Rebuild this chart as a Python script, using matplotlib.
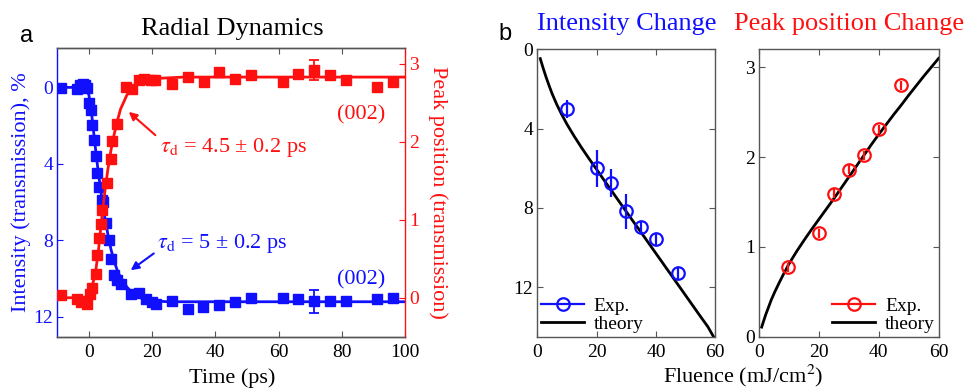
import matplotlib
matplotlib.use("Agg")
import matplotlib.pyplot as plt
from matplotlib.lines import Line2D

plt.rcParams['font.family'] = ['Liberation Serif', 'DejaVu Serif']
plt.rcParams['mathtext.fontset'] = 'stix'

BLUE = '#1010ff'
RED = '#ff1010'
SPINE = '#555555'

# ---- Panel a data: radial dynamics ----
t_int = [-8.7, -3.7, -2.8, -2.0, -1.2, -0.5, 0.0, 0.5, 1.1, 1.6, 2.1, 2.6, 3.3, 4.0, 4.6,
         5.3, 6.3, 6.9, 7.9, 9.0, 10.2, 13.2, 15.8, 18.0, 20.0, 21.3, 26.2, 31.2, 36.2,
         41.2, 46.2, 51.2, 61.2, 66.2, 71.0, 76.2, 81.2, 91.2, 96.2]
intensity = [0.05, 0.1, -0.15, -0.2, -0.1, 0.05, 0.8, 1.2, 1.95, 2.75, 3.6, 4.5, 5.2, 5.9, 6.0,
             7.1, 8.0, 9.0, 9.8, 10.1, 10.3, 10.8, 10.75, 11.1, 11.25, 11.35, 11.2, 11.6, 11.5,
             11.4, 11.25, 11.0, 11.0, 11.1, 11.2, 11.2, 11.2, 11.1, 11.0]
t_peak = [-8.7, -3.7, -2.5, -1.5, -0.7, 0.3, 1.07, 2.1, 2.6, 3.2, 3.7, 4.2, 5.6, 6.85, 7.4,
          9.0, 11.6, 13.7, 15.8, 17.5, 19.5, 21.0, 26.3, 31.3, 36.3, 41.2, 46.3, 51.2,
          61.2, 66.2, 71.0, 76.2, 81.2, 91.2, 96.2]
peak = [0.03, -0.02, -0.05, -0.04, -0.08, 0.05, 0.12, 0.31, 0.55, 0.76, 0.95, 1.12, 1.47,
        1.78, 2.01, 2.23, 2.70, 2.68, 2.79, 2.80, 2.79, 2.79, 2.74, 2.83, 2.77, 2.89, 2.81,
        2.86, 2.77, 2.87, 2.92, 2.86, 2.79, 2.70, 2.77]
err_t = [71.0]
err_int = [11.2]
err_int_e = [0.6]
err_peak = [2.92]
err_peak_e = [0.13]

fit_t_int = [-10, -1, 0, 1, 2, 3, 4, 5, 6, 7, 8, 9, 10, 12, 14, 16, 18, 20, 25, 100]
fit_int = [0.0, 0.0, 0.4, 1.6, 3.1, 4.5, 5.7, 6.8, 7.7, 8.5, 9.1, 9.6, 9.95, 10.45, 10.8,
           11.0, 11.1, 11.17, 11.22, 11.22]
fit_t_peak = [-10, -1, 0, 1, 2, 3, 4, 5, 6, 7, 8, 9, 10, 12, 14, 16, 18, 20, 30, 100]
fit_peak = [0.0, 0.0, 0.05, 0.15, 0.3, 0.6, 1.0, 1.35, 1.65, 1.9, 2.1, 2.27, 2.42, 2.6,
            2.71, 2.77, 2.8, 2.81, 2.83, 2.83]

# ---- Panel b data: fluence dependence ----
flu_int = [10, 20, 25, 30, 35, 40, 47.5]
int_change = [3.03, 6.0, 6.75, 8.18, 8.96, 9.56, 11.3]
int_err = [0.45, 0.94, 0.72, 0.87, 0.3, 0.3, 0.3]
theory_flu_int = [1.0, 2.0, 3.0, 4.0, 5.0, 6.5, 8.0, 10, 12.5, 15, 17.5, 20, 22.5, 25,
                  27.5, 30, 32.5, 35, 37.5, 40, 42.5, 45, 47.5, 50, 52.5, 55, 57.5, 59.4]
theory_int = [0.47, 0.96, 1.42, 1.84, 2.24, 2.76, 3.22, 3.78, 4.4, 4.98, 5.53, 6.06, 6.6,
              7.13, 7.66, 8.19, 8.72, 9.24, 9.77, 10.3, 10.83, 11.36, 11.89, 12.42, 12.95,
              13.48, 14.0, 14.5]

flu_peak = [9.7, 20.1, 25, 30, 34.9, 40, 47.4]
peak_change = [0.774, 1.15, 1.59, 1.86, 2.02, 2.31, 2.80]
peak_err = [0.05, 0.05, 0.05, 0.05, 0.05, 0.05, 0.05]
theory_flu_peak = [0.8, 1.5, 2.2, 3.0, 4.0, 5.2, 6.5, 8.0, 10, 12.5, 15, 17.5, 20, 22.5,
                   25, 27.5, 30, 32.5, 35, 37.5, 40, 42.5, 45, 47.5, 50, 52.5, 55, 57.5, 60]
theory_peak = [0.107, 0.18, 0.25, 0.32, 0.41, 0.5, 0.59, 0.69, 0.815, 0.95, 1.075, 1.195,
               1.31, 1.425, 1.54, 1.66, 1.78, 1.9, 2.02, 2.14, 2.255, 2.365, 2.475, 2.58,
               2.69, 2.795, 2.9, 3.0, 3.1]

fig = plt.figure(figsize=(9.66, 3.89), dpi=100)

# ================= Panel a =================
ax = fig.add_axes([0.0593, 0.1344, 0.3603, 0.7416])
ax2 = ax.twinx()

ax.plot(fit_t_int, fit_int, color=BLUE, lw=2.0, zorder=2)
ax.plot(t_int, intensity, 's', color=BLUE, ms=7.2, zorder=3)
ax.errorbar(err_t, err_int, yerr=err_int_e, fmt='none', ecolor=BLUE, elinewidth=1.3,
            capsize=3.5, capthick=1.3, zorder=3)

ax2.plot(fit_t_peak, fit_peak, color=RED, lw=2.0, zorder=2)
ax2.plot(t_peak, peak, 's', color=RED, ms=7.2, zorder=3)
ax2.errorbar(err_t, err_peak, yerr=err_peak_e, fmt='none', ecolor=RED, elinewidth=1.3,
             capsize=3.5, capthick=1.3, zorder=3)

ax.set_xlim(-10, 100)
ax.set_ylim(13.05, -2.05)
ax2.set_ylim(-0.5, 3.2)
ax.set_xticks([0, 20, 40, 60, 80, 100])
ax.set_yticks([0, 4, 8, 12])
ax2.set_yticks([0, 1, 2, 3])

ax.tick_params(axis='x', direction='in', top=True, length=4, width=0.8, color=SPINE,
               labelsize=14, pad=5)
ax.tick_params(axis='y', direction='in', length=4, width=0.8, color=BLUE,
               labelcolor=BLUE, labelsize=14, pad=3)
ax2.tick_params(axis='y', direction='in', length=4, width=0.8, color=RED,
                labelcolor=RED, labelsize=14, pad=3)

for s in ['top', 'bottom']:
    ax.spines[s].set_color(SPINE)
    ax2.spines[s].set_color(SPINE)
ax.spines['left'].set_color(BLUE)
ax.spines['right'].set_visible(False)
ax2.spines['left'].set_visible(False)
ax2.spines['right'].set_color(RED)
for a in (ax, ax2):
    for s in a.spines.values():
        s.set_linewidth(1.0)

ax.annotate('', xy=(12.6, 1.28), xytext=(21.0, 2.5),
            arrowprops=dict(arrowstyle='-|>', color=RED, lw=1.5, mutation_scale=12,
                            shrinkA=0, shrinkB=0))
ax.annotate('', xy=(13.2, 9.57), xytext=(20.5, 8.69),
            arrowprops=dict(arrowstyle='-|>', color=BLUE, lw=1.5, mutation_scale=12,
                            shrinkA=0, shrinkB=0))
ax.text(22.6, 3.37, r'$\tau_{\mathrm{d}}$ = 4.5 ± 0.2 ps', color=RED, fontsize=16,
        ha='left', va='baseline')
ax.text(21.6, 8.41, r'$\tau_{\mathrm{d}}$ = 5 ± 0.2 ps', color=BLUE, fontsize=16,
        ha='left', va='baseline')
ax.text(93.6, 1.7, '(002)', color=RED, fontsize=16, ha='right', va='baseline')
ax.text(93.6, 10.3, '(002)', color=BLUE, fontsize=16, ha='right', va='baseline')

fig.text(0.2402, 0.910, 'Radial Dynamics', fontsize=19, ha='center', va='baseline')
fig.text(0.0207, 0.892, 'a', fontsize=17, ha='left', va='baseline',
         family=['Liberation Sans', 'DejaVu Sans'])
fig.text(0.2405, 0.016, 'Time (ps)', fontsize=16, ha='center', va='baseline')
fig.text(0.0217, 0.506, 'Intensity (transmission), %', fontsize=16, color=BLUE,
         rotation=90, ha='center', va='center')
fig.text(0.4534, 0.505, 'Peak position (transmission)', fontsize=16, color=RED,
         rotation=270, ha='center', va='center')

# ================= Panel b =================
axb1 = fig.add_axes([0.5562, 0.1344, 0.1843, 0.7388])
axb2 = fig.add_axes([0.7860, 0.1344, 0.1857, 0.7388])

axb1.plot(theory_flu_int, theory_int, color='black', lw=2.0, zorder=2)
axb1.errorbar(flu_int, int_change, yerr=int_err, fmt='o', color=BLUE, mfc='none',
              ms=9, mew=1.6, elinewidth=1.6, capsize=0, zorder=3)
axb1.set_xlim(0, 60)
axb1.set_ylim(14.5, 0)
axb1.set_xticks([0, 20, 40, 60])
axb1.set_yticks([0, 4, 8, 12])

axb2.plot(theory_flu_peak, theory_peak, color='black', lw=2.0, zorder=2)
axb2.errorbar(flu_peak, peak_change, yerr=peak_err, fmt='o', color=RED, mfc='none',
              ms=9, mew=1.6, elinewidth=1.6, capsize=0, zorder=3)
axb2.set_xlim(0, 60)
axb2.set_ylim(0, 3.2)
axb2.set_xticks([0, 20, 40, 60])
axb2.set_yticks([0, 1, 2, 3])

for a in (axb1, axb2):
    a.tick_params(direction='in', top=True, right=True, length=4, width=0.8,
                  color=SPINE, labelsize=14)
    a.tick_params(axis='x', pad=5)
    a.tick_params(axis='y', pad=3)
    for s in a.spines.values():
        s.set_color(SPINE)
        s.set_linewidth(1.0)

h_blue = [Line2D([], [], color=BLUE, marker='o', mfc='none', ms=9, mew=1.6, lw=1.6),
          Line2D([], [], color='black', lw=2.0)]
h_red = [Line2D([], [], color=RED, marker='o', mfc='none', ms=9, mew=1.6, lw=1.6),
         Line2D([], [], color='black', lw=2.0)]
axb1.legend(h_blue, ['Exp.', 'theory'], loc='lower left', frameon=False, fontsize=14,
            handlelength=2.2, handletextpad=0.5, labelspacing=0.0,
            borderaxespad=0.1, borderpad=0.1)
axb2.legend(h_red, ['Exp.', 'theory'], loc='lower right', frameon=False, fontsize=14,
            handlelength=2.2, handletextpad=0.5, labelspacing=0.0,
            borderaxespad=0.1, borderpad=0.1)

fig.text(0.649, 0.924, 'Intensity Change', fontsize=19, color=BLUE, ha='center',
         va='baseline')
fig.text(0.879, 0.924, 'Peak position Change', fontsize=19, color=RED, ha='center',
         va='baseline')
fig.text(0.5155, 0.897, 'b', fontsize=17, ha='left', va='baseline',
         family=['Liberation Sans', 'DejaVu Sans'])
fig.text(0.769, 0.016, 'Fluence (mJ/cm$^{2}$)', fontsize=16, ha='center', va='baseline')

fig.savefig('out.png', dpi=100)
